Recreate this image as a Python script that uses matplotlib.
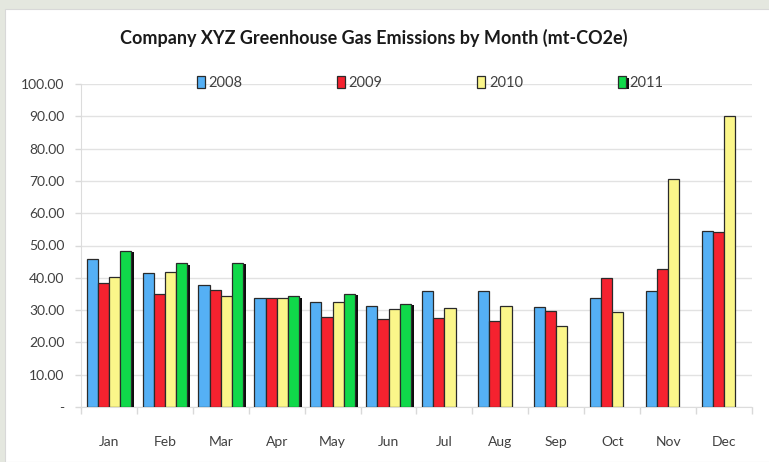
import numpy as np
import matplotlib.pyplot as plt
import matplotlib.patheffects as pe
from matplotlib.patches import Rectangle
from matplotlib.ticker import FuncFormatter, MultipleLocator

# data
Months = ['Jan', 'Feb', 'Mar', 'Apr', 'May', 'Jun', 'Jul', 'Aug', 'Sep', 'Oct', 'Nov', 'Dec']
Years = ['2008', '2009', '2010', '2011']
Y2008 = [45.7, 41.6, 37.8, 33.8, 32.4, 31.2, 35.8, 35.8, 31.0, 33.9, 35.8, 54.5]
Y2009 = [38.4, 35.1, 36.3, 33.8, 27.9, 27.3, 27.6, 26.6, 29.6, 39.8, 42.8, 54.3]
Y2010 = [40.2, 41.9, 34.5, 33.8, 32.4, 30.4, 30.7, 31.2, 25.0, 29.4, 70.5, 90.0]
Y2011 = [48.4, 44.5, 44.7, 34.3, 35.1, 31.9, np.nan, np.nan, np.nan, np.nan, np.nan, np.nan]

Colours = ['#55b0f5', '#f5222f', '#fbf68a', '#10d94a']

plt.rcParams['font.family'] = ['Lato', 'DejaVu Sans']

fig = plt.figure(figsize=(7.69, 4.62), dpi=100)
fig.patch.set_facecolor('#e4e7df')
# white chart area behind everything
fig.patches.append(Rectangle((5/769, 0), 1, 1 - 9/462, transform=fig.transFigure,
                             facecolor='white', edgecolor='#d8d8d8', lw=0.8, zorder=-5))

ax = fig.add_axes([81/769, 1 - 407/462, (752 - 81)/769, (407 - 84)/462], zorder=2)
ax.set_facecolor('white')

x = np.arange(len(Months))
BarW = 0.2
Series = [Y2008, Y2009, Y2010, Y2011]
Handles = []
for i in range(len(Series)):
    Bars = ax.bar(x + (i - 1.5)*BarW, Series[i], BarW, color=Colours[i],
                  edgecolor='#2a2a2a', linewidth=0.9, label=Years[i], zorder=3)
    if i == 3:
        for b in Bars:
            b.set_path_effects([pe.SimplePatchShadow(offset=(2.2, -1.0), shadow_rgbFace='black', alpha=0.95),
                                pe.Normal()])
    Handles.append(Bars)

ax.set_xlim(-0.5, 11.5)
ax.set_ylim(0, 100)
ax.yaxis.set_major_locator(MultipleLocator(10))
ax.yaxis.set_major_formatter(FuncFormatter(lambda v, p: '-' if v == 0 else '%.2f' % v))
ax.grid(axis='y', color='#e2e2e2', linewidth=1.0, zorder=0)
ax.set_axisbelow(True)
# top gridline not drawn in reference
ax.get_ygridlines()[-1].set_visible(False)

ax.set_xticks(x)
ax.set_xticklabels(Months)
ax.set_xticks(np.arange(-0.5, 12, 1), minor=True)
ax.tick_params(axis='x', which='major', length=0, pad=21, labelsize=10, labelcolor='#404040')
ax.tick_params(axis='x', which='minor', length=5, color='#d9d9d9', width=1)
ax.tick_params(axis='y', length=4, color='#d9d9d9', width=1, pad=8, labelsize=10, labelcolor='#404040')

for s in ['top', 'right']:
    ax.spines[s].set_visible(False)
ax.spines['left'].set_color('#dcdcdc')
ax.spines['bottom'].set_color('#dcdcdc')

fig.text(374/769, 1 - 38/462, 'Company XYZ Greenhouse Gas Emissions by Month (mt-CO2e)',
         ha='center', va='center', fontsize=13, fontweight='bold', color='#1a1a1a')

Leg = fig.legend(handles=Handles, labels=Years, loc='center', ncol=4,
                 bbox_to_anchor=(430/769, 1 - 83/462), frameon=False,
                 handlelength=0.55, handleheight=0.85, handletextpad=0.25,
                 columnspacing=6.5, fontsize=10.5, labelcolor='#404040')

plt.savefig('out.png', dpi=100, facecolor=fig.get_facecolor())
